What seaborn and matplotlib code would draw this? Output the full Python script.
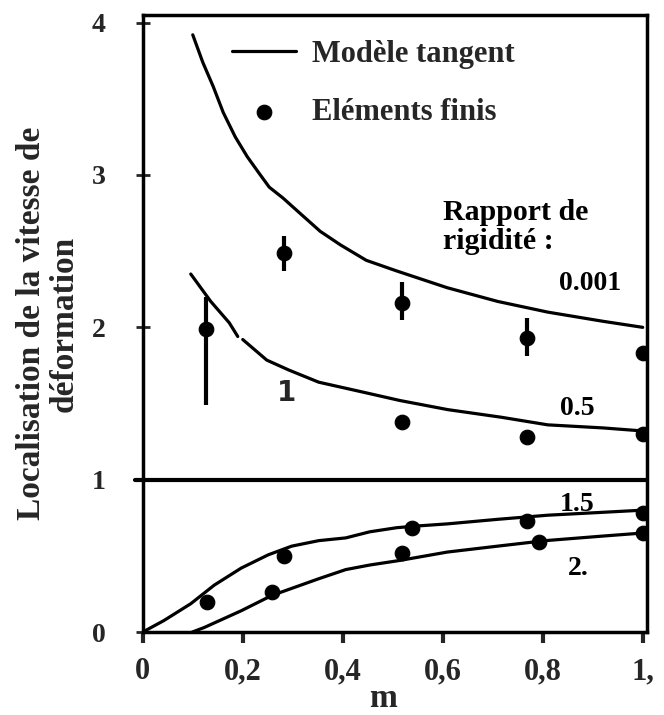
import matplotlib
matplotlib.use("Agg")
import matplotlib.pyplot as plt
from matplotlib.ticker import FixedLocator, FixedFormatter
import seaborn as sns
import numpy as np

# Modèle tangent curves (m, localisation), one per rapport de rigidité
m_0001 = [0.100, 0.120, 0.141, 0.161, 0.185, 0.209, 0.233, 0.253, 0.280, 0.314,
          0.355, 0.396, 0.447, 0.508, 0.609, 0.710, 0.810, 0.920, 1.0]
loc_0001 = [3.92, 3.74, 3.58, 3.41, 3.25, 3.12, 3.01, 2.92, 2.85, 2.75,
            2.63, 2.54, 2.44, 2.37, 2.26, 2.17, 2.10, 2.04, 2.0]

# the 0.5 curve has a small gap near m = 0.19
m_05a = [0.096, 0.136, 0.173, 0.190]
loc_05a = [2.35, 2.17, 2.03, 1.94]
m_05b = [0.200, 0.248, 0.292, 0.352, 0.447, 0.514, 0.610, 0.717, 0.810, 0.920, 1.0]
loc_05b = [1.92, 1.785, 1.72, 1.64, 1.57, 1.52, 1.46, 1.41, 1.36, 1.34, 1.32]

m_15 = [0.0, 0.042, 0.096, 0.143, 0.197, 0.251, 0.298, 0.352, 0.406, 0.454,
        0.508, 0.548, 0.609, 0.710, 0.810, 0.920, 1.0]
loc_15 = [0.0, 0.075, 0.186, 0.308, 0.42, 0.507, 0.564, 0.60, 0.618, 0.658,
          0.685, 0.696, 0.71, 0.74, 0.767, 0.786, 0.80]

m_2 = [0.099, 0.123, 0.197, 0.258, 0.352, 0.406, 0.454, 0.514, 0.609, 0.710,
       0.805, 0.920, 1.0]
loc_2 = [0.0, 0.03, 0.14, 0.24, 0.35, 0.41, 0.44, 0.47, 0.525, 0.564,
         0.60, 0.63, 0.65]

# Eléments finis points
pt_m_0001 = [0.126, 0.282, 0.518, 0.768, 1.0]
pt_loc_0001 = [1.99, 2.49, 2.16, 1.93, 1.83]
err_lo_0001 = [1.49, 2.37, 2.05, 1.81, np.nan]
err_hi_0001 = [2.20, 2.60, 2.30, 2.06, np.nan]

pt_m_05 = [0.518, 0.768, 1.0]
pt_loc_05 = [1.38, 1.28, 1.30]

pt_m_15 = [0.128, 0.282, 0.538, 0.768, 1.0]
pt_loc_15 = [0.20, 0.50, 0.68, 0.73, 0.78]

pt_m_2 = [0.258, 0.518, 0.792, 1.0]
pt_loc_2 = [0.26, 0.52, 0.59, 0.65]

x_ticks = [0, 0.2, 0.4, 0.6, 0.8, 1.0]
x_labels = ["0", "0,2", "0,4", "0,6", "0,8", "1,"]
y_ticks = [0, 1, 2, 3, 4]

sns.set_style("white")
plt.rcParams['font.family'] = ['Liberation Serif', 'DejaVu Serif']
plt.rcParams['font.weight'] = 'bold'

fig = plt.figure(figsize=(6.64, 7.15), dpi=100)
ax = fig.add_axes([0.215, 0.116, 0.759, 0.863])

lw = 2.3
line_kw = dict(color='black', linewidth=lw, ax=ax)
sns.lineplot(x=m_0001, y=loc_0001, label="Modèle tangent", **line_kw)
sns.lineplot(x=m_05a, y=loc_05a, legend=False, **line_kw)
sns.lineplot(x=m_05b, y=loc_05b, legend=False, **line_kw)
sns.lineplot(x=m_15, y=loc_15, legend=False, **line_kw)
sns.lineplot(x=m_2, y=loc_2, legend=False, **line_kw)

ax.vlines(pt_m_0001, err_lo_0001, err_hi_0001, color='black', linewidth=3)

pt_kw = dict(color='black', s=110, edgecolor='black', ax=ax, zorder=3)
sns.scatterplot(x=pt_m_0001, y=pt_loc_0001, label="Eléments finis", **pt_kw)
sns.scatterplot(x=pt_m_05, y=pt_loc_05, legend=False, **pt_kw)
sns.scatterplot(x=pt_m_15, y=pt_loc_15, legend=False, **pt_kw)
sns.scatterplot(x=pt_m_2, y=pt_loc_2, legend=False, **pt_kw)

ax.axhline(1.0, color='black', linewidth=3, xmin=-0.016, clip_on=False)

# curve labels
lab_kw = dict(fontsize=20, fontweight='bold', color='black')
ax.text(0.832, 2.29, "0.001", ha='left', va='center', **lab_kw)
ax.text(0.834, 1.47, "0.5", ha='left', va='center', **lab_kw)
ax.text(0.834, 0.84, "1.5", ha='left', va='center', **lab_kw)
ax.text(0.850, 0.42, "2.", ha='left', va='center', **lab_kw)
ax.text(0.60, 2.66, "Rapport de\nrigidité :", ha='left', va='center',
        linespacing=1.12, fontsize=21.5, fontweight='bold', color='black')
ax.text(0.288, 1.57, "1", ha='center', va='center', fontsize=20,
        fontweight='bold', family='DejaVu Sans')

ax.legend(loc='upper left', bbox_to_anchor=(0.177, 0.96), frameon=False,
          handlelength=2.1, handletextpad=0.52, labelspacing=0.95,
          borderpad=0, borderaxespad=0,
          prop={'size': 22, 'weight': 'bold', 'family': 'Liberation Serif'})

ax.set_xlim(0, 1.008)
ax.set_ylim(0, 4.05)
ax.xaxis.set_major_locator(FixedLocator(x_ticks))
ax.xaxis.set_major_formatter(FixedFormatter(x_labels))
ax.set_yticks(y_ticks)
ax.tick_params(axis='x', direction='out', length=8, width=3, pad=10,
               labelsize=22, bottom=True)
ax.tick_params(axis='y', direction='inout', length=10, width=2, pad=22,
               labelsize=20, left=True)
for lab in ax.get_xticklabels() + ax.get_yticklabels():
    lab.set_fontweight('bold')

for sp in ax.spines.values():
    sp.set_visible(True)
    sp.set_color('black')
    sp.set_linewidth(2.5)

ax.set_xlabel("m", fontsize=24, fontweight='bold')
ax.xaxis.set_label_coords(0.476, -0.083)
ax.set_ylabel("Localisation de la vitesse de\ndéformation", fontsize=24,
              fontweight='bold', linespacing=1.08)
ax.yaxis.set_label_coords(-0.125, 0.5)

fig.savefig("out.png", dpi=100)
plt.close(fig)
